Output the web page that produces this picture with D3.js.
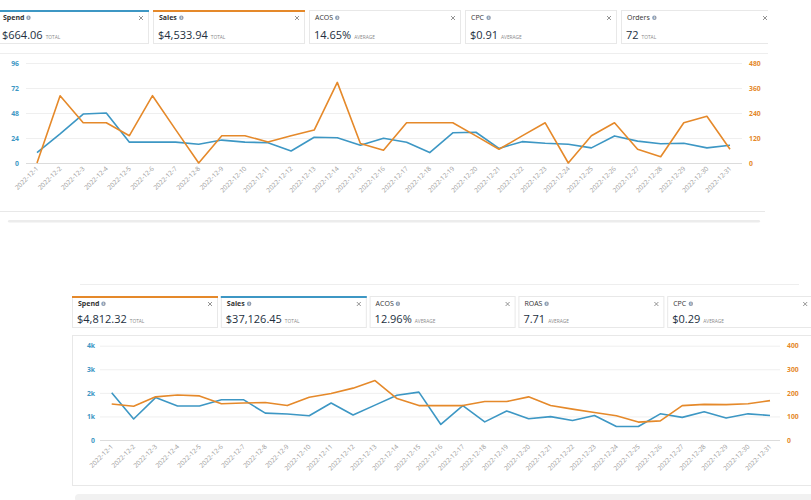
<!DOCTYPE html>
<meta charset="utf-8">
<style>
body { margin: 0; background: #fff; font-family: "Open Sans", sans-serif; }
.grid .domain { display: none; }
.ylab text { font-size: 6.8px; font-weight: bold; }
.ylab .domain, .ylab line { display: none; }
.date { font-size: 6.5px; fill: #999999; }
</style>
<body>
<script src="https://cdn.jsdelivr.net/npm/d3@7"></script>
<script>

var blue = "#3d97c4", orange = "#e5892a";

var dates = d3.range(1, 32).map(function(d) { return "2022-12-" + d; });

// top chart: Spend (left) and Sales (right)
var topSpend = [10, 28, 47, 48, 20, 20, 20, 18, 22, 20, 19.5, 11.5, 24.7, 24.3, 17, 23.7,
                20, 10, 29, 29.5, 14, 20.5, 19, 18, 14.5, 26, 21, 18.5, 19, 14.5, 17];
var topSales = [0, 323, 193, 193, 131, 323, 160, 0, 131, 131, 101, 131, 158, 387, 94, 61,
                193, 193, 193, 130, 66, 130, 193, 0, 131, 193, 66, 30, 193, 224, 66];
var topLeftTicks = [0, 24, 48, 72, 96];
var topRightTicks = [0, 120, 240, 360, 480];

// bottom chart: Sales (left) and Spend (right)
var botSales = [2000, 890, 1800, 1440, 1440, 1710, 1710, 1140, 1100, 1030, 1570, 1060, 1480, 1900, 2030, 660,
                1460, 770, 1230, 900, 990, 830, 1040, 570, 570, 1110, 960, 1200, 930, 1110, 1040];
var botSpend = [153, 143, 183, 191, 187, 154, 157, 159, 146, 181, 197, 220, 252, 176, 146, 146,
                146, 163, 163, 183, 146, 131, 117, 103, 76, 81, 146, 151, 150, 154, 167];
var botLeftTicks = [0, 1000, 2000, 3000, 4000];
var botRightTicks = [0, 100, 200, 300, 400];

var topCards = [
  {title: "Spend", value: "$664.06", unit: "TOTAL", color: blue},
  {title: "Sales", value: "$4,533.94", unit: "TOTAL", color: orange},
  {title: "ACOS", value: "14.65%", unit: "AVERAGE", color: null},
  {title: "CPC", value: "$0.91", unit: "AVERAGE", color: null},
  {title: "Orders", value: "72", unit: "TOTAL", color: null}
];
var botCards = [
  {title: "Spend", value: "$4,812.32", unit: "TOTAL", color: orange},
  {title: "Sales", value: "$37,126.45", unit: "TOTAL", color: blue},
  {title: "ACOS", value: "12.96%", unit: "AVERAGE", color: null},
  {title: "ROAS", value: "7.71", unit: "AVERAGE", color: null},
  {title: "CPC", value: "$0.29", unit: "AVERAGE", color: null}
];

var svg = d3.select("body").append("svg")
    .attr("width", 811)
    .attr("height", 500);

svg.append("defs").append("clipPath").attr("id", "topclip")
  .append("rect").attr("x", 0).attr("y", 0).attr("width", 768).attr("height", 60);

function drawCards(g, cards, x0, step, w, y0, h) {
  var c = g.selectAll(".card").data(cards).enter().append("g")
      .attr("transform", function(d, i) { return "translate(" + (x0 + i * step) + "," + y0 + ")"; });
  c.append("rect")
      .attr("x", 0.5).attr("y", 0.5)
      .attr("width", w).attr("height", h)
      .attr("fill", "#fff")
      .attr("stroke", "#e8e8e8");
  c.filter(function(d) { return d.color; }).append("rect")
      .attr("x", 0).attr("y", 0).attr("width", w + 1).attr("height", 2)
      .attr("fill", function(d) { return d.color; });
  c.append("text")
      .attr("x", 6).attr("y", 10)
      .attr("font-size", 7)
      .attr("font-weight", function(d) { return d.color ? "bold" : "normal"; })
      .attr("fill", "#333")
      .text(function(d) { return d.title; })
    .each(function() {
      var bb = this.getBBox();
      d3.select(this.parentNode).append("circle")
        .attr("cx", bb.x + bb.width + 4).attr("cy", 7.7).attr("r", 2.2)
        .attr("fill", "#8d9cb0");
      d3.select(this.parentNode).append("text")
        .attr("x", bb.x + bb.width + 4).attr("y", 9.3)
        .attr("font-size", 4).attr("font-weight", "bold")
        .attr("text-anchor", "middle").attr("fill", "#fff").text("i");
    });
  // close cross
  c.append("path")
      .attr("d", "M" + (w - 9) + ",6L" + (w - 5) + ",10M" + (w - 5) + ",6L" + (w - 9) + ",10")
      .attr("stroke", "#888").attr("stroke-width", 0.9).attr("fill", "none");
  var v = c.append("text")
      .attr("x", 5).attr("y", h - 4.5)
      .attr("fill", "#232f3e");
  v.append("tspan").attr("font-size", 11).text(function(d) { return d.value; });
  v.append("tspan").attr("font-size", 4.8).attr("fill", "#888").attr("dx", 3)
      .text(function(d) { return d.unit; });
}

function drawChart(opt) {
  var x = d3.scalePoint().domain(dates).range([opt.x0, opt.x1]);
  var yL = d3.scaleLinear().domain([0, opt.lMax]).range([opt.yBase, opt.yTop]);
  var yR = d3.scaleLinear().domain([0, opt.rMax]).range([opt.yBase, opt.yTop]);

  svg.append("g")
      .attr("class", "grid")
      .attr("transform", "translate(" + opt.g0 + ",0)")
      .call(d3.axisRight(yL).tickValues(opt.lTicks).tickSize(opt.g1 - opt.g0).tickFormat(""))
    .selectAll("line")
      .style("stroke", function(d) { return d === 0 ? "#dcdcdc" : "#efefef"; });

  svg.append("g")
      .attr("class", "ylab")
      .attr("transform", "translate(" + opt.g0 + ",0)")
      .call(d3.axisLeft(yL).tickValues(opt.lTicks).tickSize(0).tickPadding(opt.lPad).tickFormat(opt.lFmt))
    .selectAll("text").attr("fill", opt.lColor).style("font-family", "Open Sans");

  svg.append("g")
      .attr("class", "ylab")
      .attr("transform", "translate(" + opt.g1 + ",0)")
      .call(d3.axisRight(yR).tickValues(opt.rTicks).tickSize(0).tickPadding(7))
    .selectAll("text").attr("fill", opt.rColor).style("font-family", "Open Sans");

  svg.append("g").selectAll("text")
      .data(dates)
    .enter().append("text")
      .attr("class", "date")
      .attr("text-anchor", "end")
      .attr("transform", function(d) { return "translate(" + (x(d) + 2) + "," + opt.dateY + ") rotate(-45)"; })
      .text(function(d) { return d; });

  var lineL = d3.line().x(function(d, i) { return x(dates[i]); }).y(function(d) { return yL(d); });
  var lineR = d3.line().x(function(d, i) { return x(dates[i]); }).y(function(d) { return yR(d); });

  svg.append("path").datum(opt.lData)
      .attr("fill", "none").attr("stroke", opt.lColor).attr("stroke-width", 1.6)
      .attr("stroke-linejoin", "round")
      .attr("d", lineL);
  svg.append("path").datum(opt.rData)
      .attr("fill", "none").attr("stroke", opt.rColor).attr("stroke-width", 1.6)
      .attr("stroke-linejoin", "round")
      .attr("d", lineR);
}

// ---- top panel ----
drawCards(svg.append("g").attr("clip-path", "url(#topclip)"), topCards, -3, 156, 151, 10, 33);
svg.append("line").attr("x1", 0).attr("x2", 768).attr("y1", 53.5).attr("y2", 53.5).attr("stroke", "#eeeeee");

drawChart({
  x0: 37, x1: 730, g0: 26, g1: 742, yBase: 163, yTop: 63,
  lMax: 96, rMax: 480, lTicks: topLeftTicks, rTicks: topRightTicks,
  lFmt: d3.format("d"), lPad: 7, lColor: blue, rColor: orange,
  lData: topSpend, rData: topSales, dateY: 169
});

svg.append("line").attr("x1", 0).attr("x2", 765).attr("y1", 211.5).attr("y2", 211.5).attr("stroke", "#e8e8e8");
svg.append("rect").attr("x", 8).attr("y", 220).attr("width", 752).attr("height", 2.5).attr("rx", 1.2).attr("fill", "#ececec");

// ---- bottom panel ----
svg.append("line").attr("x1", 80).attr("x2", 799).attr("y1", 284.5).attr("y2", 284.5).attr("stroke", "#eeeeee");
drawCards(svg.append("g"), botCards, 72, 148.8, 145, 296, 31);
svg.append("rect").attr("x", 72.5).attr("y", 335.5).attr("width", 760).attr("height", 150)
    .attr("fill", "none").attr("stroke", "#e8e8e8");

drawChart({
  x0: 111.7, x1: 770, g0: 100, g1: 780, yBase: 440, yTop: 345.7,
  lMax: 4000, rMax: 400, lTicks: botLeftTicks, rTicks: botRightTicks,
  lFmt: function(d) { return d === 0 ? "0" : (d / 1000) + "k"; }, lPad: 5,
  lColor: blue, rColor: orange,
  lData: botSales, rData: botSpend, dateY: 447
});

svg.append("rect").attr("x", 75).attr("y", 494).attr("width", 760).attr("height", 8).attr("rx", 4).attr("fill", "#f1f1f1");

</script>
